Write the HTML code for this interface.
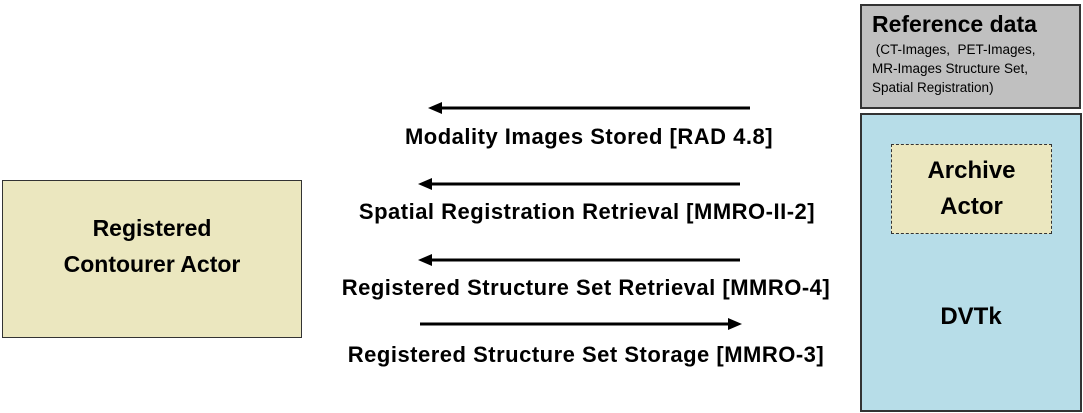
<!DOCTYPE html>
<html><head><style>
body{margin:0;width:1083px;height:413px;background:#fff;position:relative;overflow:hidden;font-family:"Liberation Sans",sans-serif;}
.b{position:absolute;box-sizing:border-box;}
.t{position:absolute;font-weight:bold;color:#000;white-space:nowrap;text-align:center;}
.l{font-size:22px;letter-spacing:0.5px;}
</style></head><body>
<div class="b" style="left:860px;top:4px;width:221px;height:105px;background:#c0c0c0;border:2px solid #333;"></div>
<div class="t" style="left:872px;top:11px;font-size:23px;text-align:left;">Reference data</div>
<div class="t" style="left:872px;top:40px;font-size:13.5px;line-height:19px;text-align:left;font-weight:normal;">&nbsp;(CT-Images,&nbsp; PET-Images,<br>MR-Images Structure Set,<br>Spatial Registration)</div>
<div class="b" style="left:860px;top:113px;width:222px;height:299px;background:#b7dde8;border:2px solid #333;"></div>
<div class="b" style="left:891px;top:144px;width:161px;height:90px;background:#ebe7bf;border:1.5px dashed #333;"></div>
<div class="t" style="left:891px;top:153px;width:161px;font-size:24px;line-height:36px;">Archive<br>Actor</div>
<div class="t" style="left:860px;top:303px;width:222px;font-size:24px;">DVTk</div>
<div class="b" style="left:2px;top:180px;width:300px;height:158px;background:#ebe7bf;border:1.5px solid #333;"></div>
<div class="t" style="left:2px;top:210px;width:300px;font-size:23px;line-height:36px;">Registered<br>Contourer Actor</div>
<svg class="b" style="left:0;top:0" width="1083" height="413">
<g stroke="#000" stroke-width="3"><line x1="440" y1="108" x2="750" y2="108"/><line x1="430" y1="184" x2="740" y2="184"/><line x1="430" y1="260" x2="740" y2="260"/><line x1="420" y1="324" x2="730" y2="324"/></g>
<g fill="#000"><polygon points="428,108 442,102 442,114"/><polygon points="418,184 432,178 432,190"/><polygon points="418,260 432,254 432,266"/><polygon points="742,324 728,318 728,330"/></g>
</svg>
<div class="t l" style="left:289px;top:124px;width:600px;">Modality Images Stored [RAD 4.8]</div>
<div class="t l" style="left:287px;top:199px;width:600px;">Spatial Registration Retrieval [MMRO-II-2]</div>
<div class="t l" style="left:286px;top:275px;width:600px;">Registered Structure Set Retrieval [MMRO-4]</div>
<div class="t l" style="left:286px;top:342px;width:600px;">Registered Structure Set Storage [MMRO-3]</div>
</body></html>
